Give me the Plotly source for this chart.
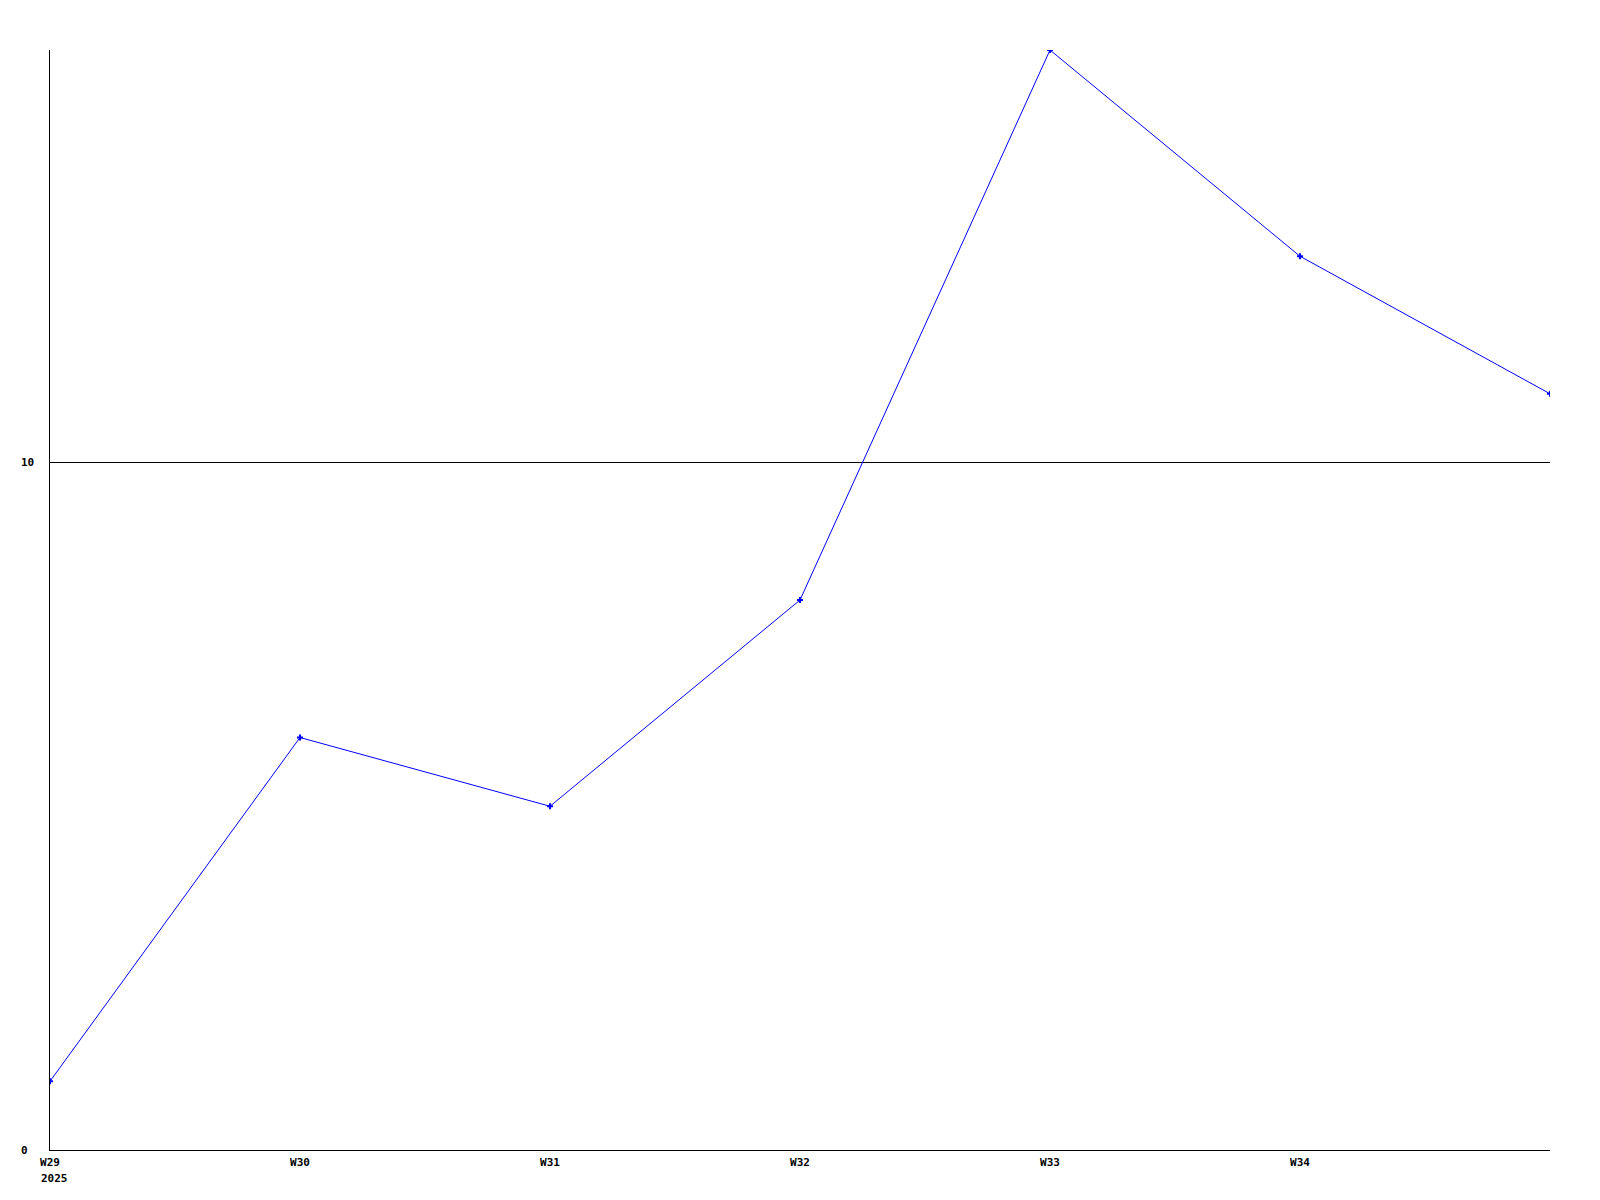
import plotly.graph_objects as go

weeks = ["W29", "W30", "W31", "W32", "W33", "W34", "W35"]
values = [1, 6, 5, 8, 16, 13, 11]
x_tick_labels = ["W29", "W30", "W31", "W32", "W33", "W34"]
y_tick_vals = [0, 10]
year_label = "2025"

xpos = list(range(len(weeks)))

fig = go.Figure()
fig.add_trace(go.Scatter(
    x=xpos, y=values, mode="lines+markers",
    line=dict(color="#0000ff", width=1),
    marker=dict(symbol="cross", size=5, color="#0000ff"),
    hovertext=weeks,
    showlegend=False,
))

font = dict(family="DejaVu Sans Mono", size=11, color="black", weight="bold")

# page body has an 8px default margin; compensate so the plot area lands at 50..1550 x 50..1150
fig.update_layout(
    width=1600, height=1200,
    margin=dict(l=42, r=58, t=42, b=58),
    paper_bgcolor="white", plot_bgcolor="white",
    xaxis=dict(
        range=[0, 6], tickmode="array",
        tickvals=list(range(len(x_tick_labels))), ticktext=x_tick_labels,
        showgrid=False, zeroline=False, showline=True, linecolor="black", linewidth=1,
        ticks="", tickfont=font, ticklabelstandoff=2,
    ),
    yaxis=dict(
        range=[0, 16], tickmode="array", tickvals=y_tick_vals,
        showgrid=True, gridcolor="black", gridwidth=1,
        zeroline=False, showline=True, linecolor="black", linewidth=1,
        ticks="", showticklabels=False,
    ),
)

# y tick labels, left-aligned as in the reference
for v in y_tick_vals:
    fig.add_annotation(
        text=str(v), xref="paper", yref="y", x=0, y=v,
        xanchor="left", yanchor="middle", xshift=-31,
        showarrow=False, font=font,
    )

fig.add_annotation(
    text=year_label, xref="paper", yref="paper", x=0, y=0,
    xanchor="left", yanchor="top", xshift=-11, yshift=-20,
    showarrow=False, font=font,
)

fig.write_html("out.html")
